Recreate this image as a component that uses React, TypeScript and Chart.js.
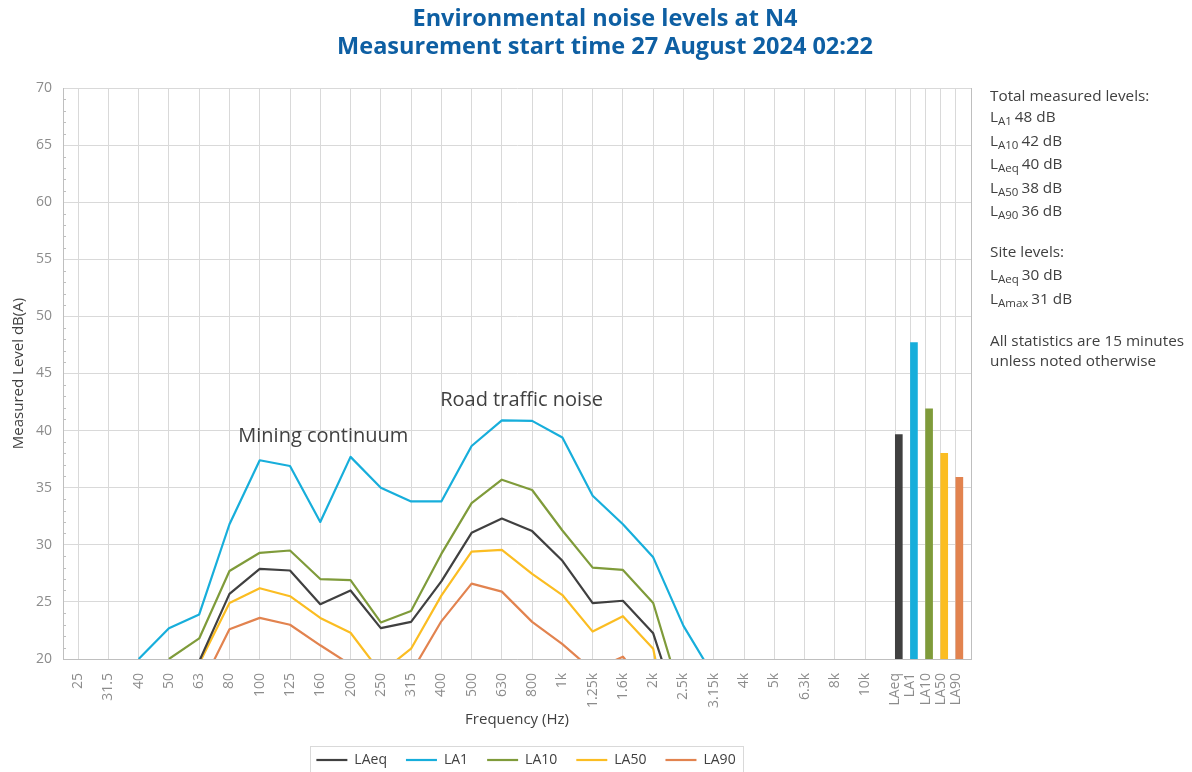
import React, { useEffect, useRef } from 'react';
import { Chart, registerables } from 'chart.js';

Chart.register(...registerables);

// ---------- data ----------
const FREQUENCY_LABELS = ['25', '31.5', '40', '50', '63', '80', '100', '125', '160', '200', '250', '315', '400', '500', '630', '800', '1k', '1.25k', '1.6k', '2k', '2.5k', '3.15k', '4k', '5k', '6.3k', '8k', '10k'];
const STATISTIC_LABELS = ['LAeq', 'LA1', 'LA10', 'LA50', 'LA90'];
const SERIES_NAMES = ['LAeq', 'LA1', 'LA10', 'LA50', 'LA90'];

const LAEQ_VALUES: (number | null)[] = [null, null, null, null, 19.8, 25.7, 27.9, 27.75, 24.8, 26.0, 22.7, 23.25, 26.8, 31.05, 32.3, 31.2, 28.6, 24.9, 25.1, 22.25, 14.1, null, null, null, null, null, null];
const LA1_VALUES: (number | null)[] = [null, null, 20.0, 22.7, 23.9, 31.8, 37.4, 36.9, 32.0, 37.7, 35.0, 33.8, 33.8, 38.65, 40.9, 40.85, 39.4, 34.3, 31.8, 28.9, 22.9, 18.5, null, null, null, null, null];
const LA10_VALUES: (number | null)[] = [null, null, null, 20.0, 21.8, 27.7, 29.3, 29.5, 27.0, 26.9, 23.2, 24.2, 29.2, 33.65, 35.7, 34.8, 31.25, 28.0, 27.8, 24.9, 16.1, null, null, null, null, null, null];
const LA50_VALUES: (number | null)[] = [null, null, null, null, 19.6, 24.9, 26.2, 25.5, 23.6, 22.3, 18.8, 20.9, 25.55, 29.4, 29.55, 27.45, 25.6, 22.4, 23.75, 20.9, 8.0, null, null, null, null, null, null];
const LA90_VALUES: (number | null)[] = [null, null, null, null, 17.3, 22.6, 23.6, 23.0, 21.2, 19.5, null, 18.8, 23.3, 26.6, 25.9, 23.25, 21.3, 19.0, 20.2, 17.0, null, null, null, null, null, null, null];

const TOTAL_BAR_VALUES = [39.65, 47.7, 41.9, 38.0, 35.9];

const SERIES_COLORS = ['#404040', '#17AEDB', '#7F9B3A', '#FBBD22', '#E2834F'];

const Y_MIN = 20;
const Y_MAX = 70;
const Y_STEP = 5;

const TITLE_LINES = ['Environmental noise levels at N4', 'Measurement start time 27 August 2024 02:22'];
const X_TITLE = 'Frequency (Hz)';
const Y_TITLE = 'Measured Level dB(A)';

const TOTAL_HEADER = 'Total measured levels:';
const TOTAL_KEYS = ['A1', 'A10', 'Aeq', 'A50', 'A90'];
const TOTAL_DB = [48, 42, 40, 38, 36];
const SITE_HEADER = 'Site levels:';
const SITE_KEYS = ['Aeq', 'Amax'];
const SITE_DB = [30, 31];
const NOTE_LINES = ['All statistics are 15 minutes', 'unless noted otherwise'];

const ANNOTATION_TEXTS = ['Mining continuum', 'Road traffic noise'];
const ANNOTATION_X = [8.1, 14.65];
const ANNOTATION_Y = [39.5, 42.65];

// ---------- layout helpers ----------
const FONT = '"Open Sans", "DejaVu Sans", sans-serif';
const freqPos = (i: number) => i;
const statPos = (j: number) => FREQUENCY_LABELS.length + j * 0.5;
const BAR_SHIFT = 0.115;
const TICK_POSITIONS = [...FREQUENCY_LABELS.map((_, i) => freqPos(i)), ...STATISTIC_LABELS.map((_, j) => statPos(j))];
const TICK_TEXT = [...FREQUENCY_LABELS, ...STATISTIC_LABELS];
const X_MIN = -0.5;
const X_MAX = statPos(STATISTIC_LABELS.length - 1) + 0.5;

const SERIES_VALUES = [LAEQ_VALUES, LA1_VALUES, LA10_VALUES, LA50_VALUES, LA90_VALUES];

const minorTicks = {
  id: 'minorTicks',
  beforeDatasetsDraw(chart: any) {
    const y = chart.scales.y;
    const ctx = chart.ctx;
    const left = chart.chartArea.left;
    ctx.save();
    ctx.strokeStyle = '#bfbfbf';
    ctx.lineWidth = 1;
    for (let v = Y_MIN + 1; v < Y_MAX; v++) {
      if (v % Y_STEP === 0) continue;
      const py = Math.round(y.getPixelForValue(v)) + 0.5;
      ctx.beginPath();
      ctx.moveTo(left, py);
      ctx.lineTo(left + 3, py);
      ctx.stroke();
    }
    ctx.restore();
  },
};

const annotations = {
  id: 'annotations',
  afterDatasetsDraw(chart: any) {
    const ctx = chart.ctx;
    const xs = chart.scales.x;
    const ys = chart.scales.y;
    ctx.save();
    ctx.font = `20px ${FONT}`;
    ctx.fillStyle = '#404040';
    ctx.textAlign = 'center';
    ctx.textBaseline = 'middle';
    ANNOTATION_TEXTS.forEach((t, k) => {
      ctx.fillText(t, xs.getPixelForValue(ANNOTATION_X[k]), ys.getPixelForValue(ANNOTATION_Y[k]));
    });
    ctx.restore();
  },
};

const sidePanel = {
  id: 'sidePanel',
  afterDraw(chart: any) {
    const ctx = chart.ctx;
    const { right, top } = chart.chartArea;
    const x = right + 19;
    const big = `15.3px ${FONT}`;
    const small = `11.5px ${FONT}`;
    ctx.save();
    ctx.fillStyle = '#404040';
    ctx.textAlign = 'left';
    ctx.textBaseline = 'middle';
    const plain = (t: string, y: number) => {
      ctx.font = big;
      ctx.fillText(t, x, y);
    };
    const level = (key: string, db: number, y: number) => {
      ctx.font = big;
      ctx.fillText('L', x, y);
      let cx = x + ctx.measureText('L').width;
      ctx.font = small;
      ctx.fillText(key, cx, y + 4);
      cx += ctx.measureText(key).width + 3;
      ctx.font = big;
      ctx.fillText(`${db} dB`, cx, y);
    };
    let y = top + 9;
    plain(TOTAL_HEADER, y);
    y += 21;
    TOTAL_KEYS.forEach((k, i) => {
      level(k, TOTAL_DB[i], y);
      y += 23.5;
    });
    y += 17;
    plain(SITE_HEADER, y);
    y += 23.5;
    SITE_KEYS.forEach((k, i) => {
      level(k, SITE_DB[i], y);
      y += 23.5;
    });
    y += 19;
    NOTE_LINES.forEach((t) => {
      plain(t, y);
      y += 19.5;
    });
    ctx.restore();
  },
};

const legendTweak = {
  id: 'legendTweak',
  afterLayout(chart: any) {
    const lg = chart.legend;
    if (lg) {
      lg.left += 9;
      lg.right += 9;
    }
  },
  afterDraw(chart: any) {
    const lg = chart.legend;
    if (!lg || !lg.legendHitBoxes || !lg.legendHitBoxes.length) return;
    const hb = lg.legendHitBoxes;
    const minL = Math.min(...hb.map((h: any) => h.left));
    const maxR = Math.max(...hb.map((h: any) => h.left + h.width));
    const ctx = chart.ctx;
    ctx.save();
    ctx.strokeStyle = '#d9d9d9';
    ctx.lineWidth = 1;
    ctx.strokeRect(Math.round(minL - 6) + 0.5, Math.round(lg.top + 12) + 0.5, Math.round(maxR - minL + 14), 60);
    ctx.restore();
  },
};

export default function App() {
  const canvasRef = useRef<HTMLCanvasElement | null>(null);

  useEffect(() => {
    if (!canvasRef.current) return;
    Chart.defaults.font.family = FONT;

    const lineDatasets = SERIES_NAMES.map((name, s) => ({
      type: 'line' as const,
      label: name,
      data: SERIES_VALUES[s].map((v, i) => ({ x: freqPos(i), y: v })),
      borderColor: SERIES_COLORS[s],
      backgroundColor: SERIES_COLORS[s],
      borderWidth: 2.2,
      pointRadius: 0,
      pointHoverRadius: 0,
      tension: 0,
      borderJoinStyle: 'round' as const,
      clip: 0,
      xAxisID: 'x',
      yAxisID: 'y',
      order: 1,
    }));

    const barDataset = {
      type: 'bar' as const,
      label: 'Totals',
      data: TOTAL_BAR_VALUES.map((v, j) => ({ x: statPos(j) + BAR_SHIFT, y: v })),
      backgroundColor: SERIES_COLORS,
      borderWidth: 0,
      barThickness: 7,
      xAxisID: 'x',
      yAxisID: 'y',
      order: 2,
    };

    const chart = new Chart(canvasRef.current, {
      data: { datasets: [...lineDatasets, barDataset] as any },
      options: {
        responsive: false,
        animation: false,
        devicePixelRatio: 1,
        layout: { padding: { left: 18, right: 0, top: 0, bottom: 13 } },
        plugins: {
          title: {
            display: true,
            text: TITLE_LINES,
            color: '#0E5FA3',
            font: { size: 23.5, weight: 'bold', family: FONT, lineHeight: 1.2 },
            padding: { top: 5.5, bottom: 26.1 },
          },
          legend: {
            display: true,
            position: 'bottom',
            fullSize: false,
            labels: {
              filter: (item: any) => item.datasetIndex < SERIES_NAMES.length,
              usePointStyle: true,
              pointStyle: 'line',
              pointStyleWidth: 31,
              color: '#404040',
              font: { size: 14, family: FONT },
              padding: 19,
            },
          },
          tooltip: { enabled: false },
        },
        scales: {
          x: {
            type: 'linear',
            position: 'bottom',
            min: X_MIN,
            max: X_MAX,
            offset: false,
            afterBuildTicks: (scale: any) => {
              scale.ticks = TICK_POSITIONS.map((v) => ({ value: v }));
            },
            afterFit: (scale: any) => {
              scale.height = 75;
            },
            ticks: {
              autoSkip: false,
              minRotation: 90,
              maxRotation: 90,
              padding: 14,
              color: '#8c8c8c',
              font: { size: 14, family: FONT },
              callback: (value: any) => {
                const k = TICK_POSITIONS.findIndex((p) => Math.abs(p - Number(value)) < 1e-6);
                return k >= 0 ? TICK_TEXT[k] : '';
              },
            },
            grid: { color: '#d9d9d9', drawTicks: false, lineWidth: 1, offset: false },
            border: { color: '#bfbfbf', width: 1 },
            title: {
              display: true,
              text: X_TITLE,
              color: '#404040',
              font: { size: 15, family: FONT },
              padding: { top: 0, bottom: 5 },
            },
          },
          y: {
            type: 'linear',
            position: 'left',
            min: Y_MIN,
            max: Y_MAX,
            afterFit: (scale: any) => {
              scale.width = 45;
            },
            ticks: {
              stepSize: Y_STEP,
              padding: 11,
              color: '#8c8c8c',
              font: { size: 14, family: FONT },
            },
            grid: { color: '#d9d9d9', drawTicks: false, lineWidth: 1 },
            border: { color: '#bfbfbf', width: 1 },
            title: {
              display: true,
              text: Y_TITLE,
              color: '#404040',
              font: { size: 15, family: FONT },
              padding: { top: -8.5, bottom: 0 },
            },
          },
          yRight: {
            type: 'linear',
            position: 'right',
            min: Y_MIN,
            max: Y_MAX,
            afterFit: (scale: any) => {
              scale.width = 221;
            },
            ticks: { display: false },
            grid: { display: false, drawTicks: false },
            border: { display: true, color: '#bfbfbf', width: 1 },
          },
        },
      } as any,
      plugins: [minorTicks, annotations, sidePanel, legendTweak],
    });

    return () => chart.destroy();
  }, []);

  return (
    <div style={{ position: 'fixed', left: 0, top: 0, width: 1192, height: 772, overflow: 'hidden', background: '#ffffff' }}>
      <canvas ref={canvasRef} width={1192} height={790} style={{ display: 'block' }} />
    </div>
  );
}
